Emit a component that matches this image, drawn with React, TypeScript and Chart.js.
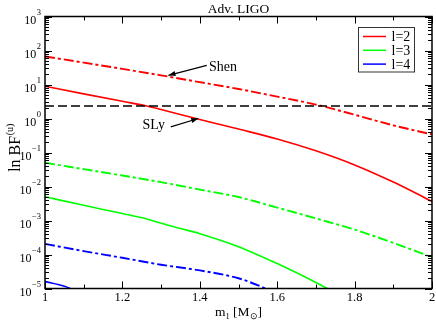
import { useEffect, useRef } from 'react';
import { Chart, registerables } from 'chart.js';
Chart.register(...registerables);

const titleText = 'Adv. LIGO';
const xTickValues = [1, 1.2, 1.4, 1.6, 1.8, 2];
const xTickLabels = ['1', '1.2', '1.4', '1.6', '1.8', '2'];
const xMinorValues = [1.1, 1.3, 1.5, 1.7, 1.9];
const yExponents = [-5, -4, -3, -2, -1, 0, 1, 2, 3];
const legendLabels = ['l=2', 'l=3', 'l=4'];
const seriesColors = ['#ff0000', '#00ff00', '#0000ff'];

// l=2, SLy (solid)
const mSLy2 = [1.0, 1.1, 1.2, 1.263, 1.3, 1.4, 1.5, 1.6, 1.7, 1.8, 1.9, 1.95, 2.0];
const bfSLy2 = [8.9, 5.3, 3.2, 2.34, 1.83, 0.94, 0.49, 0.25, 0.112, 0.043, 0.0135, 0.0071, 0.0036];
// l=2, Shen (dash-dot)
const mShen2 = [1.0, 1.1, 1.2, 1.3, 1.4, 1.5, 1.6, 1.7, 1.8, 1.9, 2.0];
const bfShen2 = [67, 44, 28.8, 18.6, 11.7, 7.4, 4.4, 2.57, 1.29, 0.63, 0.34];
// l=3, SLy (solid)
const mSLy3 = [1.0, 1.1, 1.2, 1.263, 1.3, 1.35, 1.4, 1.5, 1.6, 1.7, 1.75];
const bfSLy3 = [5.0e-3, 2.8e-3, 1.6e-3, 1.11e-3, 8.3e-4, 5.8e-4, 4.1e-4, 1.7e-4, 5.4e-5, 1.5e-5, 7.5e-6];
// l=3, Shen (dash-dot)
const mShen3 = [1.0, 1.1, 1.2, 1.3, 1.4, 1.5, 1.6, 1.7, 1.8, 1.9, 2.0];
const bfShen3 = [0.05, 0.0324, 0.0211, 0.0134, 0.0081, 0.0049, 0.0024, 0.00115, 5.4e-4, 2.2e-4, 8.3e-5];
// l=4, SLy (solid)
const mSLy4 = [1.0, 1.05, 1.1];
const bfSLy4 = [1.6e-5, 1.17e-5, 6.8e-6];
// l=4, Shen (dash-dot)
const mShen4 = [1.0, 1.1, 1.2, 1.3, 1.4, 1.5, 1.57, 1.6];
const bfShen4 = [2.05e-4, 1.26e-4, 8.0e-5, 5.0e-5, 3.4e-5, 2.0e-5, 1.0e-5, 7.0e-6];
// reference level (dashed)
const mRef = [1.0, 2.0];
const bfRef = [2.34, 2.34];

// annotations (data units)
const shenText = { m: 1.424, v: 25.2, label: 'Shen' };
const shenArrow = { m0: 1.418, v0: 36.6, m1: 1.319, v1: 18.6 };
const slyText = { m: 1.31, v: 0.475, label: 'SLy' };
const slyArrow = { m0: 1.325, v0: 0.567, m1: 1.396, v1: 1.0 };

const pts = (xs: number[], ys: number[]) => xs.map((x, i) => ({ x, y: ys[i] }));
const DASHDOT = [10, 3, 3, 3];
const SERIF = '"Liberation Serif", "Times New Roman", serif';

function arrow(ctx: CanvasRenderingContext2D, x0: number, y0: number, x1: number, y1: number) {
  ctx.beginPath();
  ctx.moveTo(x0, y0);
  ctx.lineTo(x1, y1);
  ctx.stroke();
  const ang = Math.atan2(y1 - y0, x1 - x0);
  const L = 7, W = 2.6;
  ctx.beginPath();
  ctx.moveTo(x1, y1);
  ctx.lineTo(x1 - L * Math.cos(ang) + W * Math.sin(ang), y1 - L * Math.sin(ang) - W * Math.cos(ang));
  ctx.lineTo(x1 - L * Math.cos(ang) - W * Math.sin(ang), y1 - L * Math.sin(ang) + W * Math.cos(ang));
  ctx.closePath();
  ctx.fill();
}

const decoPlugin = {
  id: 'deco',
  afterDraw(chart: any) {
    const { ctx, chartArea: a, scales } = chart;
    const xs = scales.x, ys = scales.y;
    ctx.save();
    ctx.strokeStyle = '#000';
    ctx.fillStyle = '#000';
    ctx.setLineDash([]);
    // ticks
    ctx.lineWidth = 1;
    ctx.beginPath();
    xTickValues.forEach((v) => {
      const p = Math.round(xs.getPixelForValue(v)) + 0.5;
      ctx.moveTo(p, a.bottom); ctx.lineTo(p, a.bottom - 7);
      ctx.moveTo(p, a.top); ctx.lineTo(p, a.top + 7);
    });
    xMinorValues.forEach((v) => {
      const p = Math.round(xs.getPixelForValue(v)) + 0.5;
      ctx.moveTo(p, a.bottom); ctx.lineTo(p, a.bottom - 4);
      ctx.moveTo(p, a.top); ctx.lineTo(p, a.top + 4);
    });
    yExponents.forEach((k) => {
      const p = Math.round(ys.getPixelForValue(Math.pow(10, k))) + 0.5;
      ctx.moveTo(a.left, p); ctx.lineTo(a.left + 7, p);
      ctx.moveTo(a.right, p); ctx.lineTo(a.right - 7, p);
      if (k < 3) {
        for (let j = 2; j <= 9; j++) {
          const q = Math.round(ys.getPixelForValue(j * Math.pow(10, k))) + 0.5;
          ctx.moveTo(a.left, q); ctx.lineTo(a.left + 4, q);
          ctx.moveTo(a.right, q); ctx.lineTo(a.right - 4, q);
        }
      }
    });
    ctx.stroke();
    // frame
    ctx.lineWidth = 1.5;
    ctx.strokeRect(a.left, a.top, a.right - a.left, a.bottom - a.top);

    // x tick labels
    ctx.font = `12.5px ${SERIF}`;
    ctx.textAlign = 'center';
    ctx.textBaseline = 'alphabetic';
    xTickValues.forEach((v, i) => {
      ctx.fillText(xTickLabels[i], xs.getPixelForValue(v), a.bottom + 12.5);
    });
    // y tick labels 10^k
    yExponents.forEach((k) => {
      const p = ys.getPixelForValue(Math.pow(10, k));
      const exp = String(k).replace('-', '\u2212');
      ctx.font = `8.5px ${SERIF}`;
      const ew = ctx.measureText(exp).width;
      const right = a.left - 4;
      ctx.textAlign = 'left';
      ctx.fillText(exp, right - ew, p - 1.5);
      ctx.font = `12px ${SERIF}`;
      ctx.textAlign = 'right';
      ctx.fillText('10', right - ew - 0.5, p + 7);
    });

    // title
    ctx.font = `13.5px ${SERIF}`;
    ctx.textAlign = 'center';
    ctx.fillText(titleText, (a.left + a.right) / 2, 13);

    // x axis title: m_1 [M_sun]
    {
      const parts = [
        { t: 'm', f: 13.5, dy: 0 },
        { t: '1', f: 8.5, dy: 3 },
        { t: ' [M', f: 13.5, dy: 0 },
        { t: '\u2299', f: 8.5, dy: 3 },
        { t: ']', f: 13.5, dy: 0 },
      ];
      let total = 0;
      parts.forEach((p) => { ctx.font = `${p.f}px ${SERIF}`; total += ctx.measureText(p.t).width; });
      let x = (a.left + a.right) / 2 - total / 2;
      ctx.textAlign = 'left';
      parts.forEach((p) => {
        ctx.font = `${p.f}px ${SERIF}`;
        ctx.fillText(p.t, x, 316 + p.dy);
        x += ctx.measureText(p.t).width;
      });
    }
    // y axis title: ln BF^(u)
    {
      ctx.save();
      ctx.translate(20, 148);
      ctx.rotate(-Math.PI / 2);
      ctx.font = `16px ${SERIF}`;
      const w1 = ctx.measureText('ln BF').width;
      ctx.font = `10px ${SERIF}`;
      const w2 = ctx.measureText('(u)').width;
      let x = -(w1 + w2) / 2;
      ctx.textAlign = 'left';
      ctx.font = `16px ${SERIF}`;
      ctx.fillText('ln BF', x, 0);
      ctx.font = `10px ${SERIF}`;
      ctx.fillText('(u)', x + w1 + 0.5, -7);
      ctx.restore();
    }

    // annotations
    ctx.font = `14px ${SERIF}`;
    ctx.textAlign = 'left';
    ctx.fillText(shenText.label, xs.getPixelForValue(shenText.m), ys.getPixelForValue(shenText.v));
    ctx.textAlign = 'right';
    ctx.fillText(slyText.label, xs.getPixelForValue(slyText.m), ys.getPixelForValue(slyText.v));
    ctx.lineWidth = 1.2;
    arrow(ctx, xs.getPixelForValue(shenArrow.m0), ys.getPixelForValue(shenArrow.v0),
      xs.getPixelForValue(shenArrow.m1), ys.getPixelForValue(shenArrow.v1));
    arrow(ctx, xs.getPixelForValue(slyArrow.m0), ys.getPixelForValue(slyArrow.v0),
      xs.getPixelForValue(slyArrow.m1), ys.getPixelForValue(slyArrow.v1));

    // legend
    const bx = 358, by = 27.5, bw = 56, bh = 44.5;
    ctx.fillStyle = '#fff';
    ctx.fillRect(bx, by, bw, bh);
    ctx.strokeStyle = '#333';
    ctx.lineWidth = 1;
    ctx.strokeRect(bx + 0.5, by, bw, bh);
    legendLabels.forEach((lab, i) => {
      const y = by + 9 + i * 13.8;
      ctx.strokeStyle = seriesColors[i];
      ctx.lineWidth = 1.5;
      ctx.beginPath();
      ctx.moveTo(bx + 5, y); ctx.lineTo(bx + 28, y);
      ctx.stroke();
      ctx.fillStyle = '#000';
      ctx.font = `14px ${SERIF}`;
      ctx.textAlign = 'left';
      ctx.fillText(lab, bx + 33.5, y + 4.8);
    });
    ctx.restore();
  },
};

export default function App() {
  const ref = useRef<HTMLCanvasElement | null>(null);
  useEffect(() => {
    const canvas = ref.current!;
    const common = { pointRadius: 0, borderWidth: 1.6, fill: false, cubicInterpolationMode: 'monotone' as const };
    const chart = new Chart(canvas, {
      type: 'line',
      data: {
        datasets: [
          { ...common, label: 'ref', data: pts(mRef, bfRef), borderColor: '#000', borderDash: [9, 4] },
          { ...common, label: 'l=2 SLy', data: pts(mSLy2, bfSLy2), borderColor: seriesColors[0] },
          { ...common, label: 'l=2 Shen', data: pts(mShen2, bfShen2), borderColor: seriesColors[0], borderDash: DASHDOT, borderWidth: 1.9 },
          { ...common, label: 'l=3 SLy', data: pts(mSLy3, bfSLy3), borderColor: seriesColors[1] },
          { ...common, label: 'l=3 Shen', data: pts(mShen3, bfShen3), borderColor: seriesColors[1], borderDash: DASHDOT, borderWidth: 1.9 },
          { ...common, label: 'l=4 SLy', data: pts(mSLy4, bfSLy4), borderColor: seriesColors[2] },
          { ...common, label: 'l=4 Shen', data: pts(mShen4, bfShen4), borderColor: seriesColors[2], borderDash: DASHDOT, borderWidth: 1.9 },
        ],
      },
      options: {
        animation: false,
        responsive: false,
        events: [],
        layout: { padding: { top: 16.5, right: 4, left: 0, bottom: 0 } },
        plugins: { legend: { display: false }, title: { display: false }, tooltip: { enabled: false } },
        scales: {
          x: {
            type: 'linear', min: 1, max: 2,
            ticks: { display: false }, grid: { display: false }, border: { display: false },
            afterFit: (s: any) => { s.height = 32.5; },
          },
          y: {
            type: 'logarithmic', min: 1e-5, max: 1e3,
            ticks: { display: false }, grid: { display: false }, border: { display: false },
            afterFit: (s: any) => { s.width = 45; },
          },
        },
      },
      plugins: [decoPlugin],
    });
    return () => chart.destroy();
  }, []);
  return (
    <div style={{ position: 'fixed', left: 0, top: 0, width: 436, height: 321, background: '#fff' }}>
      <canvas ref={ref} width={436} height={321} style={{ display: 'block' }} />
    </div>
  );
}
